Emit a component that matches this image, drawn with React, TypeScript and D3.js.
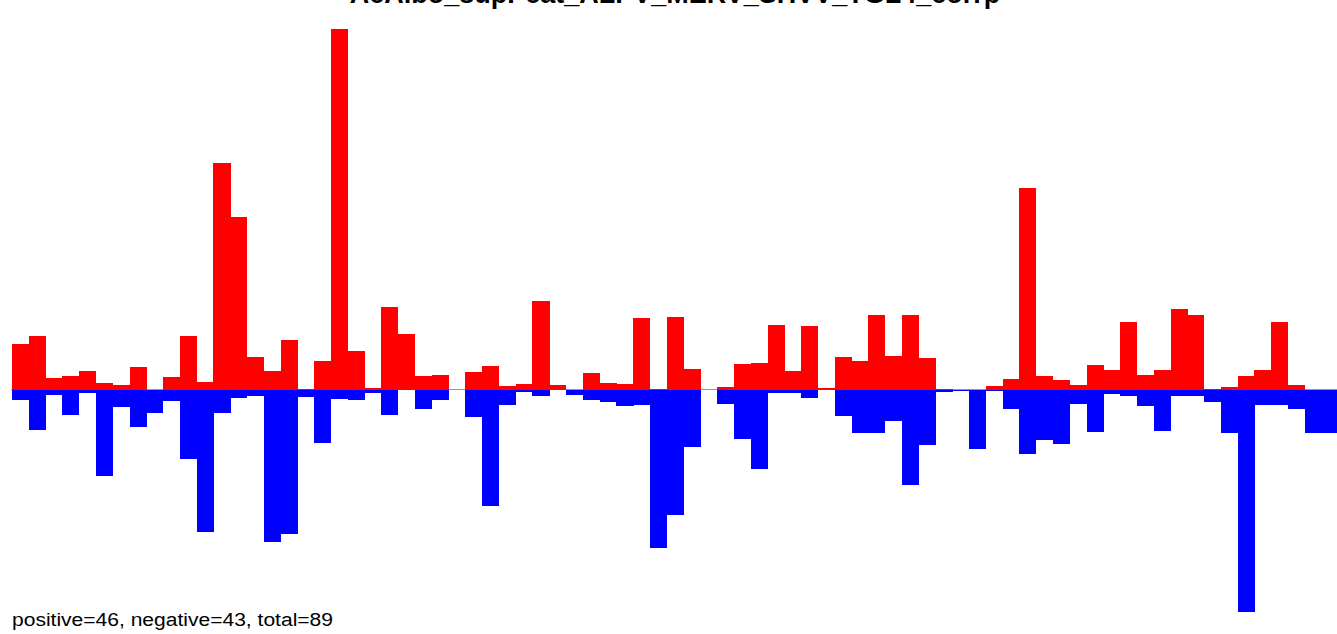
import React from "react";
import * as d3 from "d3";

const TITLE = "AcAlbo_supPcat_ALPV_MERV_SHVV_TGL4_corrp";
const FOOTER = "positive=46, negative=43, total=89";

// Upward (red) bar heights per position
const positiveValues: number[] = [
  45.7, 53.7, 11.7, 13.7, 18.7, 6.7, 4.7, 22.7, 0, 12.7,
  53.7, 7.7, 226.7, 172.7, 32.7, 18.7, 49.7, 1, 28.7, 360.7,
  38.7, 1.7, 82.7, 55.7, 13.7, 14.7, 0, 17.7, 23.7, 3.7,
  5.7, 88.7, 4.7, 0, 16.7, 6.7, 5.7, 71.7, 1, 72.7,
  20.7, 0, 2.7, 25.7, 26.7, 64.7, 18.7, 63.7, 1.7, 32.7,
  28.7, 74.7, 33.7, 74.7, 31.7, 1, 0, 0, 3.7, 10.7,
  202, 13.7, 9.7, 4.7, 24.7, 19.7, 67.7, 14.7, 19.7, 80.7,
  74.7, 1, 2.7, 13.7, 19.7, 67.7, 4.7, 0, 0,
];

// Downward (blue) bar depths per position
const negativeValues: number[] = [
  -10, -40, -5, -25, -3, -86, -17.3, -37, -23, -11,
  -69, -142, -23, -8, -6, -152.3, -144, -7, -53, -9,
  -10, -3, -25, 0, -19, -10, 0, -27, -116, -15,
  -2, -6, 0, -5, -10, -12, -16, -15, -158, -125,
  -57, 0, -14, -49, -79, -3, -3, -8, 0, -26,
  -43, -43, -31, -95, -55, -2, -1, -59, -1, -19,
  -64, -50, -54, -14, -42, -4, -6, -16, -41, -6,
  -6, -12, -43, -222, -15, -15, -19, -43, -43,
];

const W = 1337;
const H = 634;

export default function App() {
  const n = positiveValues.length;
  const idx = d3.range(n).map(String);
  const x = d3
    .scaleBand<string>()
    .domain(idx)
    .range([12, 12 + n * 16.79])
    .padding(0);
  const y = d3.scaleLinear().domain([0, 360.7]).range([389.5, 28.8]);

  return (
    <div style={{ position: "absolute", left: 0, top: 0 }}>
      <svg width={W} height={H} style={{ display: "block" }}>
        <rect x={0} y={0} width={W} height={H} fill="#fff" />
        <line x1={11} x2={W} y1={y(0)} y2={y(0)} stroke="#999" strokeWidth={1} />
        <g shapeRendering="crispEdges">
          {positiveValues.map((v, i) =>
            v > 0 ? (
              <rect
                key={"p" + i}
                x={x(String(i))!}
                width={x.bandwidth() + 0.3}
                y={y(v)}
                height={y(0) - y(v)}
                fill="#ff0000"
              />
            ) : null
          )}
          {negativeValues.map((v, i) =>
            v < 0 ? (
              <rect
                key={"n" + i}
                x={x(String(i))!}
                width={x.bandwidth() + 0.3}
                y={y(0)}
                height={y(v) - y(0)}
                fill="#0000ff"
              />
            ) : null
          )}
        </g>
        <text
          x={675}
          y={3}
          textAnchor="middle"
          fontFamily="Liberation Sans, Arial, sans-serif"
          fontWeight="bold"
          fontSize={27}
          fill="#000"
        >
          {TITLE}
        </text>
        <text
          x={12}
          y={626}
          fontFamily="Liberation Sans, Arial, sans-serif"
          fontSize={18}
          textLength={321}
          lengthAdjust="spacingAndGlyphs"
          fill="#000"
        >
          {FOOTER}
        </text>
      </svg>
    </div>
  );
}
